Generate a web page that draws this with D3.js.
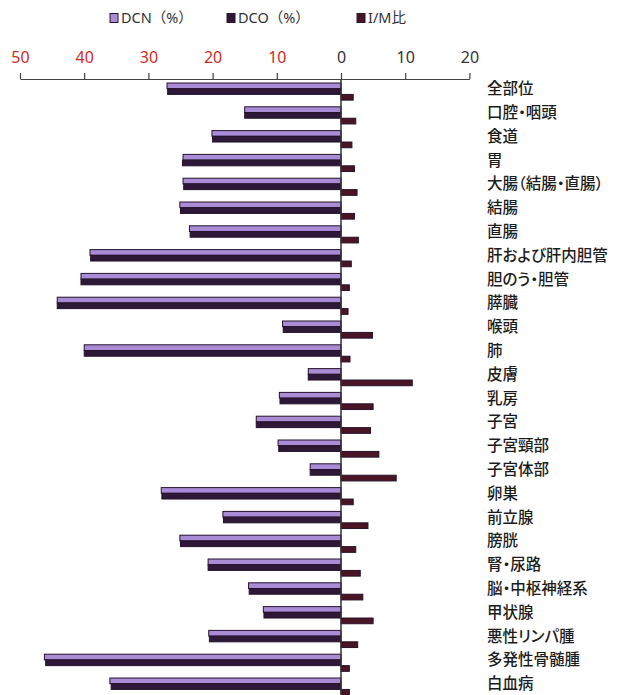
<!DOCTYPE html>
<html>
<head>
<meta charset="utf-8">
<script src="https://cdn.jsdelivr.net/npm/d3@7"></script>
<style>
  body { margin: 0; background: #fff; }
  svg { display: block; }
  .cat-label { font-family: "Noto Sans CJK JP", sans-serif; font-size: 15.5px; font-weight: 500; fill: #1c1c1c; font-feature-settings: "palt"; }
  .legend-text { font-family: "Noto Sans", "Noto Sans CJK JP", sans-serif; font-size: 14.5px; fill: #333; }
  .axis text { font-family: "Noto Sans", sans-serif; font-size: 16px; }
  .axis path, .axis line { stroke: #444; stroke-width: 1.2; }
</style>
</head>
<body>
<svg id="chart" width="627" height="695"></svg>
<script>
/* categories, top to bottom */
const categories = [
  "全部位", "口腔・咽頭", "食道", "胃", "大腸（結腸・直腸）", "結腸", "直腸",
  "肝および肝内胆管", "胆のう・胆管", "膵臓", "喉頭", "肺", "皮膚", "乳房",
  "子宮", "子宮頸部", "子宮体部", "卵巣", "前立腺", "膀胱", "腎・尿路",
  "脳・中枢神経系", "甲状腺", "悪性リンパ腫", "多発性骨髄腫", "白血病"
];

/* DCN (%) and DCO (%) go left, I/M ratio goes right */
const dcn = [27.1, 15.0, 20.1, 24.6, 24.6, 25.1, 23.6, 39.1, 40.5, 44.2, 9.1, 40.0, 5.1,
             9.6, 13.2, 9.8, 4.8, 28.0, 18.4, 25.1, 20.7, 14.4, 12.1, 20.6, 46.2, 36.0];
const dco = [27.0, 15.0, 20.0, 24.7, 24.5, 25.0, 23.5, 39.0, 40.5, 44.2, 9.0, 40.0, 5.1,
             9.5, 13.2, 9.7, 4.8, 27.9, 18.3, 25.0, 20.7, 14.3, 12.0, 20.5, 46.0, 35.8];
const imRatio = [1.9, 2.3, 1.7, 2.1, 2.5, 2.1, 2.7, 1.6, 1.3, 1.1, 4.9, 1.4, 11.1,
                 5.0, 4.6, 5.9, 8.6, 1.9, 4.2, 2.3, 3.0, 3.4, 5.0, 2.6, 1.3, 1.3];

const leftTicks = [50, 40, 30, 20, 10];
const rightTicks = [0, 10, 20];

const series = [
  { key: "dcn", label: "DCN（%）", values: dcn, fill: "#a98bd6", side: "left" },
  { key: "dco", label: "DCO（%）", values: dco, fill: "#2e1838", side: "left" },
  { key: "im",  label: "I/M比",    values: imRatio, fill: "#4a1424", side: "right" },
];

const ZERO_X = 341;
const PX_PER_UNIT = 6.42;
const ROW_STEP = 23.8;
const TOP = 83;

const svg = d3.select("#chart");

/* left scale (percent, grows leftwards), right scale (ratio) */
const xLeft = d3.scaleLinear().domain([0, 50]).range([ZERO_X, ZERO_X - 50 * PX_PER_UNIT]);
const xRight = d3.scaleLinear().domain([0, 20]).range([ZERO_X, ZERO_X + 20 * PX_PER_UNIT]);

const y = d3.scaleBand()
  .domain(categories)
  .range([TOP, TOP + ROW_STEP * (categories.length - 0.28)])
  .paddingInner(0.28)
  .paddingOuter(0);

const ySub = d3.scaleBand()
  .domain(series.map(s => s.key))
  .range([0, y.bandwidth()]);

/* bars */
const barGroup = svg.append("g").attr("class", "bars");
series.forEach(s => {
  const scale = s.side === "left" ? xLeft : xRight;
  barGroup.selectAll(null)
    .data(categories.map((c, i) => ({ c, v: s.values[i] })))
    .join("rect")
    .attr("x", d => s.side === "left" ? scale(d.v) : ZERO_X)
    .attr("y", d => y(d.c) + ySub(s.key))
    .attr("width", d => Math.abs(scale(d.v) - ZERO_X))
    .attr("height", ySub.bandwidth())
    .attr("fill", s.fill)
    .attr("stroke", "#26122c")
    .attr("stroke-width", 1);
});

/* zero line */
svg.append("line")
  .attr("x1", ZERO_X).attr("x2", ZERO_X)
  .attr("y1", 79).attr("y2", 695)
  .attr("stroke", "#333")
  .attr("stroke-width", 1.5);

/* top axes */
const axisY = 79;
const gl = svg.append("g")
  .attr("class", "axis")
  .attr("transform", `translate(0,${axisY})`)
  .call(d3.axisTop(xLeft).tickValues(leftTicks).tickSize(6).tickSizeOuter(0).tickPadding(10));
gl.selectAll("text").attr("fill", "#d32a1f");

const gr = svg.append("g")
  .attr("class", "axis")
  .attr("transform", `translate(0,${axisY})`)
  .call(d3.axisTop(xRight).tickValues(rightTicks).tickSize(6).tickSizeOuter(0).tickPadding(10));
gr.selectAll("text").attr("fill", "#333");

/* category labels */
svg.append("g").selectAll("text")
  .data(categories)
  .join("text")
  .attr("class", "cat-label")
  .attr("x", 487)
  .attr("y", d => y(d) + ySub.bandwidth() + 5.5)
  .text(d => d);

/* legend */
const legendX = [110, 227, 357];
const legend = svg.append("g");
series.forEach((s, i) => {
  const g = legend.append("g").attr("transform", `translate(${legendX[i]},18)`);
  g.append("rect")
    .attr("x", 0).attr("y", -4.5)
    .attr("width", 8).attr("height", 9)
    .attr("fill", s.fill)
    .attr("stroke", "#2a1530")
    .attr("stroke-width", 1);
  g.append("text")
    .attr("class", "legend-text")
    .attr("x", 11)
    .attr("y", 5)
    .text(s.label);
});
</script>
</body>
</html>
